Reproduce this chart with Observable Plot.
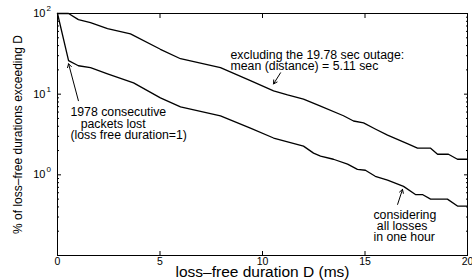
<!DOCTYPE html>
<html><head><meta charset="utf-8">
<script src="https://cdn.jsdelivr.net/npm/d3@7"></script>
<script src="https://cdn.jsdelivr.net/npm/@observablehq/plot@0.6"></script>
<style>body{margin:0;background:#fff} svg text{font-family:"Liberation Sans",Arial,sans-serif}</style>
</head><body><div id="chart"></div>
<script>
// Curve: excluding the 19.78 sec outage
const excludingD = [0,0.54,1.02,1.61,2.44,3.56,5.02,6.0,7.95,9.41,10.54,11.22,12.0,12.83,13.95,14.44,14.93,15.5,16.1,17.12,17.56,18.2,18.54,19.07,19.51,20];
const excludingPct = [100,100,84,77,65,56,36,27.5,21.3,14.7,11,9.8,8.7,7.1,5.4,4.65,4.4,3.7,3.1,2.4,2.14,2.14,1.8,1.8,1.56,1.56];
// Curve: considering all losses in one hour
const allD = [0,0.54,1.02,1.61,2.44,3.71,5.02,6.0,7.95,9.41,10.54,12.0,12.49,12.83,13.46,14.15,14.63,15.02,15.5,16.1,16.88,17.46,17.8,18.2,19.02,19.51,20];
const allPct = [100,26,22.5,21.3,17.9,13.8,9.0,6.95,5.37,3.8,2.86,2.27,1.86,1.71,1.56,1.36,1.17,1.14,0.96,0.86,0.72,0.57,0.57,0.50,0.50,0.41,0.41];

// Axes
const xTicks = [0,5,10,15,20];
const yMajor = [0.1,1,10,100];
const yMinor = [0.2,0.3,0.4,0.5,0.6,0.7,0.8,0.9,2,3,4,5,6,7,8,9,20,30,40,50,60,70,80,90];
const yLabelVals = [100,10,1];
const yLabelExps = ["2","1","0"];
const xTitle = "loss\u2013free duration D (ms)";
const yTitle = "% of loss\u2013free durations exceeding D";

// Annotations
const noteText = [
  "excluding the 19.78 sec outage:\nmean (distance) = 5.11 sec",
  "1978 consecutive\n\u00a0\u00a0\u00a0packets lost\n(loss free duration=1)",
  "considering\n\u00a0all losses\nin one hour"
];
const noteX = [8.44, 0.63, 15.41];
const noteY = [26, 4.27, 0.229];
const arrowX1 = [10.88, 1.02, 16.59];
const arrowY1 = [18.4, 8.3, 0.43];
const arrowX2 = [10.54, 0.54, 16.83];
const arrowY2 = [13.4, 23.8, 0.66];

const curveA = excludingD.map((d,i)=>({d, p: excludingPct[i]}));
const curveB = allD.map((d,i)=>({d, p: allPct[i]}));
const notes = noteText.map((t,i)=>({t, x: noteX[i], y: noteY[i]}));
const arrows = arrowX1.map((x1,i)=>({x1, y1: arrowY1[i], x2: arrowX2[i], y2: arrowY2[i]}));
const yLabs = yLabelVals.map((v,i)=>({v, e: yLabelExps[i]}));

const FF = "Liberation Sans";
const blank = () => "";
const chart = Plot.plot({
  width: 472, height: 280,
  marginLeft: 57, marginRight: 5, marginTop: 13, marginBottom: 25,
  style: {fontFamily: "'Liberation Sans', Arial, sans-serif", fontSize: "11px", background: "white", color: "black", overflow: "visible"},
  x: {domain: [0,20], label: null},
  y: {type: "log", domain: [0.1,100], label: null},
  marks: [
    Plot.axisX(xTicks, {anchor: "bottom", tickSize: -4, tickFormat: blank, label: null}),
    Plot.axisX(xTicks, {anchor: "top", tickSize: -4, tickFormat: blank, label: null}),
    Plot.axisX(xTicks, {anchor: "bottom", tickSize: 0, tickPadding: 2, fontSize: 10.5, fontFamily: FF, label: null}),
    Plot.axisY(yMajor, {anchor: "left", tickSize: -4, tickFormat: blank, label: null}),
    Plot.axisY(yMajor, {anchor: "right", tickSize: -4, tickFormat: blank, label: null}),
    Plot.axisY(yMinor, {anchor: "left", tickSize: -2, tickFormat: blank, label: null}),
    Plot.axisY(yMinor, {anchor: "right", tickSize: -2, tickFormat: blank, label: null}),
    Plot.axisY([], {anchor: "left", tickSize: 0, label: yTitle, labelAnchor: "center", labelArrow: false, labelOffset: 44, fontSize: 12, fontFamily: FF}),
    Plot.text(yLabs, {y: "v", text: () => "10", frameAnchor: "left", textAnchor: "end", dx: -12, fontSize: 11, fontFamily: FF}),
    Plot.text(yLabs, {y: "v", text: "e", frameAnchor: "left", textAnchor: "start", dx: -11, dy: -5, fontSize: 8, fontFamily: FF}),
    Plot.text([xTitle], {text: d => d, frameAnchor: "bottom", dy: 17, lineAnchor: "middle", fontSize: 15.5, fontFamily: FF}),
    Plot.frame({stroke: "black", strokeWidth: 1}),
    Plot.line(curveA, {x: "d", y: "p", stroke: "black", strokeWidth: 1.3}),
    Plot.line(curveB, {x: "d", y: "p", stroke: "black", strokeWidth: 1.3}),
    Plot.text(notes, {x: "x", y: "y", text: "t", textAnchor: "start", lineAnchor: "middle", lineHeight: 0.92, fontSize: 12.3, fontFamily: FF}),
    Plot.arrow(arrows, {x1: "x1", y1: "y1", x2: "x2", y2: "y2", stroke: "black", strokeWidth: 1, headLength: 6, insetStart: 0, insetEnd: 0})
  ]
});
document.getElementById("chart").appendChild(chart);
</script>
</body></html>
